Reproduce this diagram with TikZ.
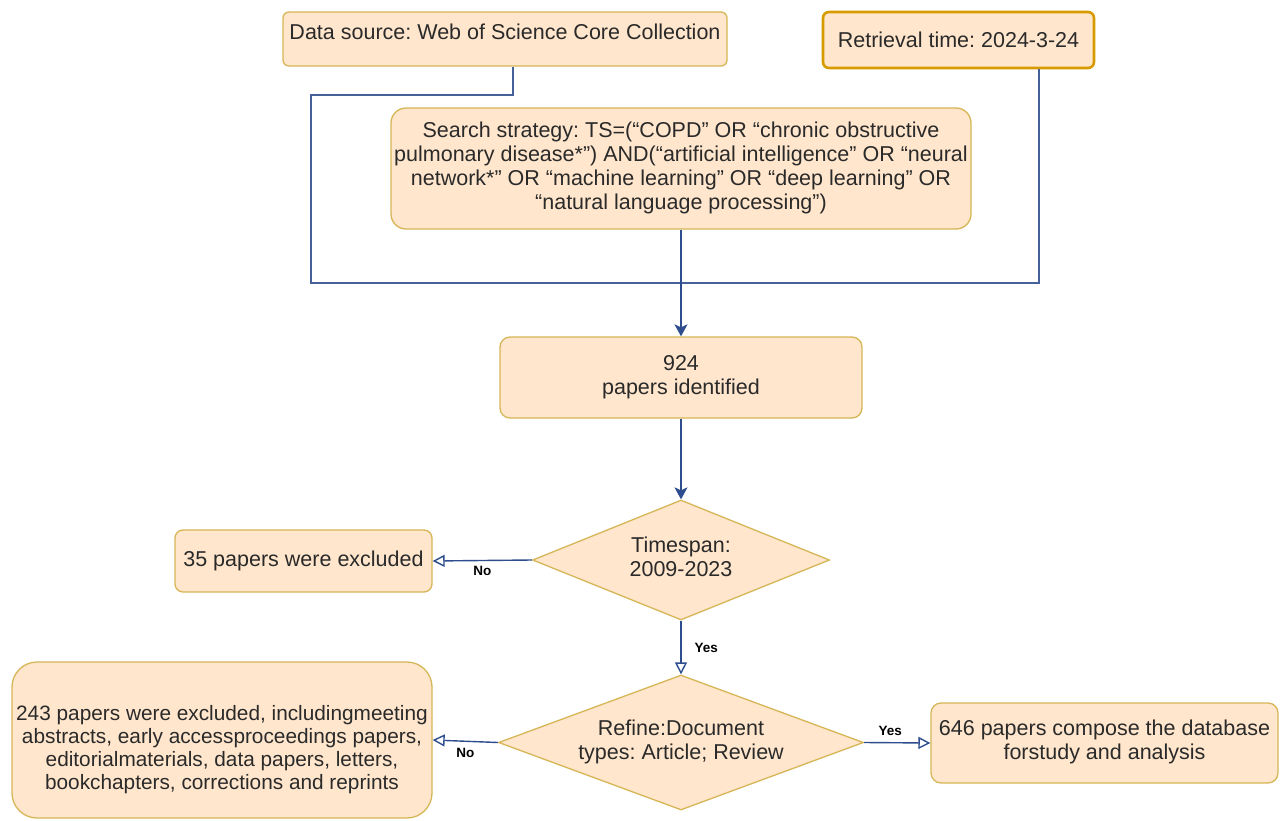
\documentclass[tikz,border=0pt]{standalone}
\usepackage{fontspec}
\setmainfont{Liberation Sans}
\usetikzlibrary{shapes.geometric,arrows.meta}
\definecolor{fillc}{HTML}{FFE6CC}
\definecolor{goldc}{HTML}{D6B656}
\definecolor{orangec}{HTML}{D79B00}
\definecolor{linec}{HTML}{2E4D8F}
\definecolor{bracketc}{HTML}{46609A}
\definecolor{txtc}{HTML}{2A2A2A}
\frenchspacing
\newcommand\btext[2][0pt]{\smash{\makebox[0pt]{\raisebox{\dimexpr-0.25em-#1\relax}{\begin{tabular}{@{}c@{}}#2\end{tabular}}}}}
\begin{document}
\begin{tikzpicture}[x=1pt,y=-1pt,
  every node/.style={font=\fontsize{21.5}{24}\selectfont, text=txtc},
  box/.style={draw=goldc, fill=fillc, line width=1.3pt, rounded corners=6pt, inner sep=0pt, align=center},
  dia/.style={diamond, draw=goldc, fill=fillc, line width=1.3pt, inner sep=0pt},
  conn/.style={draw=linec, line width=1.4pt},
  arrfill/.style={conn, -{Stealth[length=12pt,width=13pt,inset=3pt]}},
  arropen/.style={conn, -{Triangle[open,length=12pt,width=12pt]}},
  lbl/.style={font=\fontsize{13.5}{15}\bfseries\selectfont, text=black, inner sep=1pt}]
\useasboundingbox (0,0) rectangle (1282,821);
\fill[white] (0,0) rectangle (1282,821);

\node[box, minimum width=444pt, minimum height=54pt, text height=28pt, text depth=26pt] (ds) at (505,39) {Data source: Web of Science Core Collection};
\node[box, draw=orangec, line width=2.6pt, minimum width=271pt, minimum height=56pt] (rt) at (958.5,40) {Retrieval time: 2024-3-24};
\node[box, rounded corners=15pt, minimum width=580pt, minimum height=121pt] (ss) at (681,168.5) {\btext{Search strategy: TS=(“COPD” OR “chronic obstructive\\ pulmonary disease*”) AND(“artificial intelligence” OR “neural\\ network*” OR “machine learning” OR “deep learning” OR\\ “natural language processing”)}};
\node[box, rounded corners=10pt, minimum width=362pt, minimum height=81pt] (p924) at (681,377.5) {\btext{924\\papers identified}};
\node[dia, minimum width=297pt, minimum height=120pt] (ts) at (681,560) {\btext{Timespan:\\2009-2023}};
\node[box, rounded corners=8pt, minimum width=257pt, minimum height=62pt] (ex35) at (303.5,561) {35 papers were excluded};
\node[dia, minimum width=365pt, minimum height=135pt] (rf) at (681,742.5) {\btext{Refine:Document\\types: Article; Review}};
\node[box, rounded corners=25pt, minimum width=420pt, minimum height=156pt, font=\fontsize{20.8}{23}\selectfont] (ex243) at (222,740) {\btext[10pt]{243 papers were excluded, includingmeeting\\abstracts, early accessproceedings papers,\\editorialmaterials, data papers, letters,\\bookchapters, corrections and reprints}};
\node[box, rounded corners=10pt, minimum width=347pt, minimum height=80pt] (fin) at (1104.5,743) {\btext{646 papers compose the database\\forstudy and analysis}};

\coordinate (c1) at (311,95);
\coordinate (c2) at (1039,283);
\draw[conn, draw=bracketc] ([xshift=8pt]ds.south) |- (c1) |- (c2) -- (c2 |- rt.south);

\draw[arrfill] (ss.south) -- (p924.north);
\draw[arrfill] (p924.south) -- (ts.north);
\draw[arropen] (ts.west) -- node[lbl, below=4pt]{No} (ex35.east);
\draw[arropen] (ts.south) -- node[lbl, right=12pt]{Yes} (rf.north);
\draw[arropen] (rf.west) -- node[lbl, below=5pt]{No} (ex243.east);
\draw[arropen] (rf.east) -- node[lbl, above=5pt, xshift=-7pt]{Yes} (fin.west);
\end{tikzpicture}
\end{document}
